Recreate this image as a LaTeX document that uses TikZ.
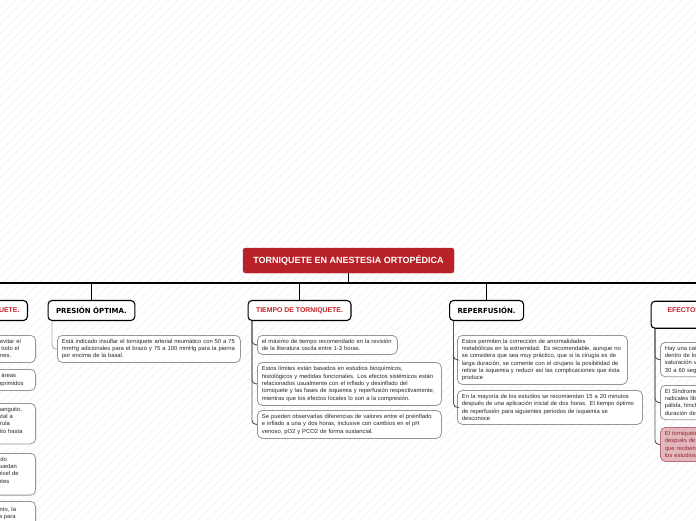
\documentclass[tikz,border=0pt]{standalone}
\usepackage{fontspec}
\setmainfont{Liberation Sans}
\newfontfamily\dvs{DejaVu Sans}
\hyphenpenalty=10000
\exhyphenpenalty=10000
\definecolor{rootred}{RGB}{185,33,40}
\definecolor{headred}{RGB}{196,32,40}
\definecolor{childgray}{RGB}{150,150,150}
\definecolor{connlight}{RGB}{175,175,175}
\definecolor{conndark}{RGB}{85,85,85}
\definecolor{bodytext}{RGB}{40,40,40}
\definecolor{pinkfill}{RGB}{226,184,190}
\definecolor{pinkdraw}{RGB}{185,110,122}
\definecolor{pinktext}{RGB}{150,36,48}
\definecolor{bgline}{RGB}{234,234,234}
\tikzset{
  rootbox/.style={draw=rootred, fill=rootred, rounded corners=2.5pt, text=white,
    font=\fontsize{9}{10}\selectfont\bfseries, minimum height=25pt, inner xsep=10pt, inner ysep=0pt},
  headbox/.style={draw=black, line width=1.1pt, fill=white, rounded corners=4pt,
    minimum height=20pt, inner xsep=8pt, inner ysep=0pt},
  redhead/.style={headbox, text=headred, font=\fontsize{6.9}{8.4}\selectfont\bfseries},
  blackhead/.style={headbox, text=black, font=\dvs\fontsize{7}{8}\selectfont\bfseries},
  childbox/.style n args={2}{draw=childgray, line width=0.8pt, fill=white, rounded corners=5pt,
    text=bodytext, font=\fontsize{5.85}{7.3}\selectfont,
    align=left, inner xsep=4.5pt, inner ysep=3.5pt,
    anchor=north west, minimum width=#1, text width=#2},
  pinkbox/.style={draw=pinkdraw, fill=pinkfill, text=pinktext},
  tree/.style={draw=black, line width=1.1pt},
  subl/.style={draw=conndark, line width=0.9pt, rounded corners=4pt},
  subll/.style={draw=connlight, line width=0.9pt, rounded corners=4pt},
  bgl/.style={draw=bgline, line width=0.6pt, dash pattern=on 1pt off 0.6pt}
}
\begin{document}
\begin{tikzpicture}[x=1pt,y=-1pt]
\useasboundingbox (0,0) rectangle (696,520);
\clip (0,0) rectangle (696,520);
\fill[white] (0,0) rectangle (696,520);
\foreach \i in {-60,...,80} \draw[bgl] (\i*9,520) -- ++(520,-520);

% root
\node[rootbox, minimum width=211pt] (root) at (348.5,260.5) {TORNIQUETE EN ANESTESIA ORTOPÉDICA};
\coordinate (hl) at (-5,283);
\coordinate (hr) at (701,283);

% main headings
\node[redhead, anchor=east] (h0) at (28,310.5) {INDICACIONES DEL TORNIQUETE.};
\node[blackhead, anchor=west] (h1) at (47.5,310.5) {PRESIÓN ÓPTIMA.};
\node[redhead, anchor=west] (h2) at (247.5,310.5) {TIEMPO DE TORNIQUETE.};
\node[blackhead, anchor=west] (h3) at (449,310.5) {REPERFUSIÓN.};
\node[redhead, anchor=north west, minimum height=27pt, inner xsep=16.5pt, align=center] (h4) at (650.5,300.7) {EFECTOS SISTÉMICOS Y LOCALES DEL\\TORNIQUETE.};

\draw[tree] (root.south) -- (root.south |- hl);
\draw[tree] (hl) -- (hr);
\foreach \h in {h0,h1,h2,h3,h4} \draw[tree] (\h.north) -- (\h.north |- hl);

% PRESION children
\node[childbox={183pt}{174pt}, minimum height=27pt] (p1) at (57,335) {Está indicado insuflar el torniquete arterial neumático con 50 a 75\\mmHg adicionales para el brazo y 75 a 100 mmHg para la pierna\\por encima de la basal.};
\draw[subll] ([xshift=4.5pt]h1.south west) |- (p1.west);

% TIEMPO children
\node[childbox={140pt}{131pt}, minimum height=19pt] (t1) at (257,335) {el máximo de tiempo recomendado en la revisión\\de la literatura oscila entre 1-3 horas.};
\node[childbox={184pt}{175pt}, minimum height=43pt] (t2) at (257,362) {Estos límites están basados en estudios bioquímicos,\\histológicos y medidas funcionales. Los efectos sistémicos están\\relacionados usualmente con el inflado y desinflado del\\torniquete y las fases de isquemia y reperfusión respectivamente,\\mientras que los efectos locales lo son a la compresión.};
\node[childbox={184pt}{175pt}, minimum height=28pt] (t3) at (257,410) {Se pueden observarlas diferencias de valores entre el preinflado\\e inflado a una y dos horas, inclusive con cambios en el pH\\venoso, pO2 y PCO2 de forma sustancial.};
\foreach \c in {t1,t2,t3} \draw[subl] ([xshift=4.5pt]h2.south west) |- (\c.west);

% REPERFUSION children
\node[childbox={170pt}{161pt}, minimum height=47pt] (r1) at (457,335) {Estos permiten la corrección de anormalidades\\metabólicas en la extremidad. Es recomendable, aunque no\\se considera que sea muy práctico, que si la cirugía es de\\larga duración, se comente con el cirujano la posibilidad de\\retirar la isquemia y reducir así las complicaciones que ésta\\produce};
\node[childbox={185pt}{176pt}, minimum height=34pt] (r2) at (457,390) {En la mayoría de los estudios se recomiendan 15 a 20 minutos\\después de una aplicación inicial de dos horas. El tiempo óptimo\\de reperfusión para siguientes periodos de isquemia se\\desconoce};
\foreach \c in {r1,r2} \draw[subl] ([xshift=4.5pt]h3.south west) |- (\c.west);

% EFECTOS children
\node[childbox={180pt}{171pt}, minimum height=34pt] (e1) at (660,342) {Hay una caída progresiva del pH\\dentro de los primeros minutos y la\\saturación venosa desciende en\\30 a 60 segundos tras el inflado};
\node[childbox={180pt}{171pt}, minimum height=34pt] (e2) at (660,385) {El Síndrome post-torniquete por\\radicales libres causa extremidad\\pálida, hinchada y rígida según la\\duración de la isquemia};
\node[childbox={180pt}{171pt}, pinkbox, minimum height=34pt] (e3) at (660,427) {El torniquete se debe desinflar\\después de la cirugía en pacientes\\que reciben anestesia regional según\\los estudios revisados};
\foreach \c in {e1,e2,e3} \draw[subl] ([xshift=4.5pt]h4.south west) |- (\c.west);

% left column children (clipped at the left edge)
\node[childbox={146pt}{137pt}, minimum height=27pt, anchor=north east] (l1) at (36,335) {Se debe exanguinar la extremidad para evitar el\\sangrado en el campo quirúrgico, retirar todo el\\aire residual de los manguitos y conexiones.};
\node[childbox={146pt}{137pt}, minimum height=21pt, anchor=north east] (l2) at (36,369) {No colocar sobre nervios superficiales o áreas\\de la piel lesionada o con los vasos comprimidos};
\node[childbox={146pt}{137pt}, minimum height=40pt, anchor=north east] (l3) at (36,403) {Se debe elegir el ancho adecuado del manguito,\\el cual no debe colocarse en la parte distal a\\la lesión; si es necesario, colocar una férula\\y colocar algodón por debajo del manguito hasta\\cubrir la zona};
\node[childbox={146pt}{137pt}, minimum height=39pt, anchor=north east] (l4) at (36,453) {Evitar la preparación de la piel con el yodo\\y con otras soluciones alcohólicas que puedan\\provocar quemaduras químicas bajo el nivel de\\las cintas del manguito en ciertos pacientes\\del cuerpo};
\node[childbox={146pt}{137pt}, minimum height=30pt, anchor=north east] (l5) at (36,501) {Al retirar el torniquete tras el procedimiento, la\\extremidad debe elevarse de forma lenta para\\favorecer el retorno};
\foreach \c in {l1,l2,l3,l4,l5} \draw[subl] ([xshift=4.5pt]h0.south west) |- (\c.west);
\end{tikzpicture}
\end{document}
